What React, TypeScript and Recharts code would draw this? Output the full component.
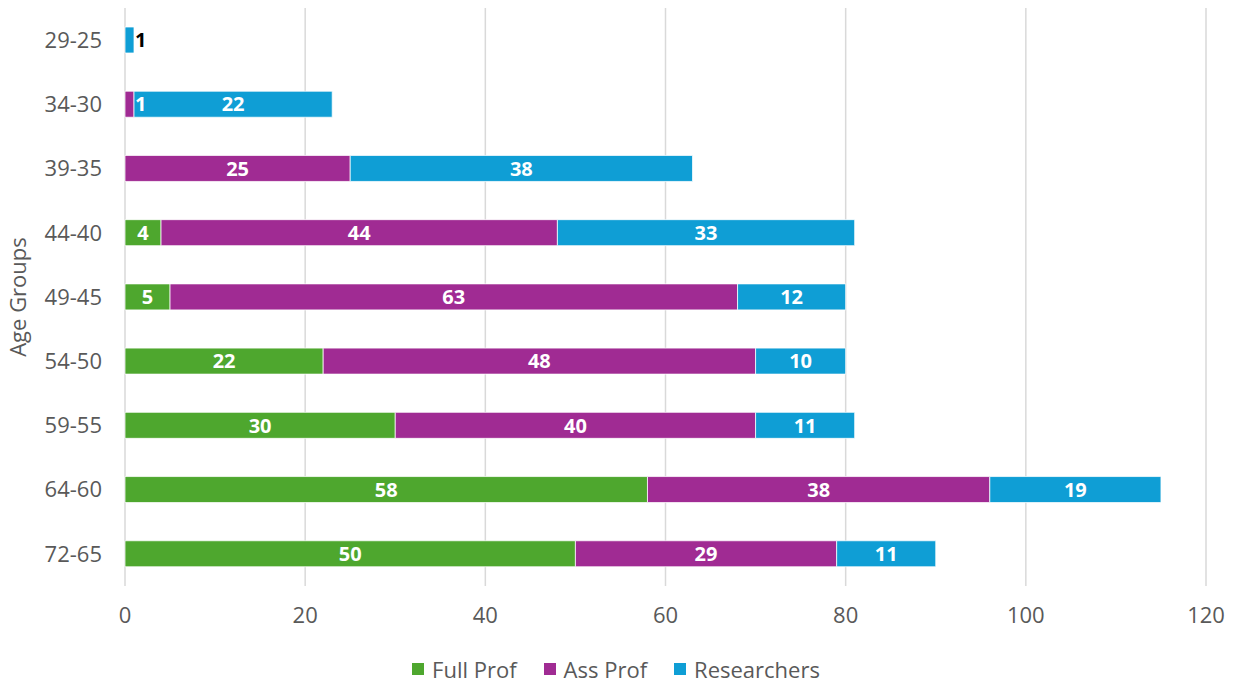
import { Bar, BarChart, CartesianGrid, Label, LabelList, Legend, XAxis, YAxis } from 'recharts';

const ageGroups = ['29-25', '34-30', '39-35', '44-40', '49-45', '54-50', '59-55', '64-60', '72-65'];
const fullProf = [0, 0, 0, 4, 5, 22, 30, 58, 50];
const assProf = [0, 1, 25, 44, 63, 48, 40, 38, 29];
const researchers = [1, 22, 38, 33, 12, 10, 11, 19, 11];
const xTicks = [0, 20, 40, 60, 80, 100, 120];

const data = ageGroups.map((name, i) => ({
  name,
  full: fullProf[i],
  ass: assProf[i],
  res: researchers[i],
}));

const FONT = '"Open Sans", sans-serif';

const series = [
  { key: 'full', name: 'Full Prof', color: '#4EA72E' },
  { key: 'ass', name: 'Ass Prof', color: '#A02B93' },
  { key: 'res', name: 'Researchers', color: '#0F9ED5' },
];

const makeLabel = (last: boolean) => (props: any) => {
  const { x, y, width, height, value } = props;
  if (!value) return null;
  const small = width < 14;
  const cx = small ? x + width + 1 : x + width / 2;
  return (
    <text
      x={cx}
      y={y + height / 2}
      dy="0.36em"
      textAnchor={small ? 'start' : 'middle'}
      fill={small && last ? '#000' : '#fff'}
      fontFamily={FONT}
      fontWeight={700}
      fontSize={20}
    >
      {value}
    </text>
  );
};

const LegendContent = () => (
  <div
    style={{
      display: 'flex',
      justifyContent: 'center',
      gap: 27,
      fontFamily: FONT,
      fontSize: 22,
      color: '#595959',
      paddingTop: 11,
      paddingLeft: 26,
    }}
  >
    {series.map((s) => (
      <div key={s.key} style={{ display: 'flex', alignItems: 'center' }}>
        <span style={{ width: 12, height: 12, background: s.color, display: 'inline-block', marginRight: 8 }} />
        <span>{s.name}</span>
      </div>
    ))}
  </div>
);

export default function App() {
  return (
    <div style={{ position: 'absolute', left: 0, top: 0, background: '#fff' }}>
      <BarChart
        width={1237}
        height={683}
        data={data}
        layout="vertical"
        margin={{ top: 8, right: 31, left: 0, bottom: 0 }}
        barSize={26}
      >
        <CartesianGrid horizontal={false} stroke="#D9D9D9" strokeWidth={1.5} />
        <XAxis
          type="number"
          domain={[0, 120]}
          ticks={xTicks}
          axisLine={false}
          tickLine={false}
          tickSize={0}
          tickMargin={21}
          height={57}
          tick={{ fill: '#595959', fontSize: 22, fontFamily: FONT }}
        />
        <YAxis
          type="category"
          dataKey="name"
          width={125}
          axisLine={false}
          tickLine={false}
          tickSize={0}
          tickMargin={23}
          tick={{ fill: '#595959', fontSize: 22, fontFamily: FONT }}
        >
          <Label
            content={({ viewBox }: any) => {
              const cx = viewBox.x + 18;
              const cy = viewBox.y + viewBox.height / 2;
              return (
                <text
                  x={cx}
                  y={cy}
                  transform={`rotate(-90, ${cx}, ${cy})`}
                  textAnchor="middle"
                  dy="0.36em"
                  fill="#595959"
                  fontSize={22}
                  fontFamily={FONT}
                >
                  Age Groups
                </text>
              );
            }}
          />
        </YAxis>
        <Legend verticalAlign="bottom" height={40} content={<LegendContent />} />
        {series.map((s, i) => (
          <Bar
            key={s.key}
            dataKey={s.key}
            name={s.name}
            stackId="a"
            fill={s.color}
            stroke="#fff"
            strokeWidth={0.75}
            isAnimationActive={false}
          >
            <LabelList dataKey={s.key} content={makeLabel(i === series.length - 1)} />
          </Bar>
        ))}
      </BarChart>
    </div>
  );
}
